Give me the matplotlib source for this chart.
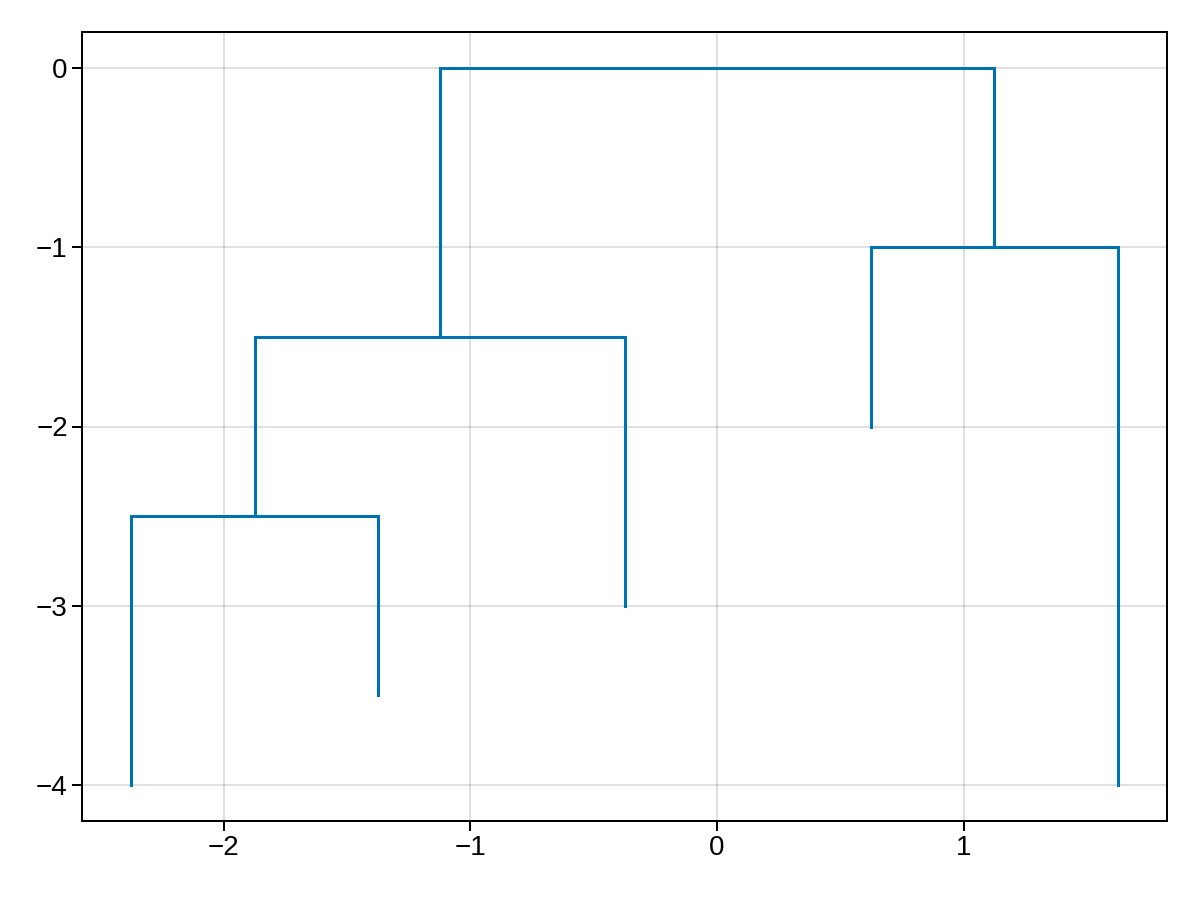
import matplotlib
matplotlib.use("Agg")
import matplotlib.pyplot as plt

# Leaves: x positions and heights
leaf_x = [-2.375, -1.375, -0.375, 0.625, 1.625]
leaf_y = [-4.0, -3.5, -3.0, -2.0, -4.0]
# Merges: (child_a, child_b, height); nodes 0-4 are leaves, 5+ are merges
merge_a = [0, 5, 3, 6]
merge_b = [1, 2, 4, 7]
merge_h = [-2.5, -1.5, -1.0, 0.0]

color = "#0072B2"
plt.rcParams["font.family"] = ["Liberation Sans", "DejaVu Sans"]

fig = plt.figure(figsize=(12, 9), dpi=100)
ax = fig.add_axes([82/1200, 1-821/900, (1167-82)/1200, (821-32)/900])

nx = list(leaf_x)
ny = list(leaf_y)
for a, b, h in zip(merge_a, merge_b, merge_h):
    ax.plot([nx[a], nx[a], nx[b], nx[b]], [ny[a], h, h, ny[b]],
            color=color, lw=2.2, solid_joinstyle="miter", zorder=3)
    nx.append((nx[a] + nx[b]) / 2)
    ny.append(h)

ax.set_xlim(-2.575, 1.825)
ax.set_ylim(-4.2, 0.2)
ax.set_xticks([-2, -1, 0, 1])
ax.set_yticks([-4, -3, -2, -1, 0])
ax.grid(True, color="#000000", alpha=0.12, lw=1.44)
ax.set_axisbelow(True)
for s in ax.spines.values():
    s.set_linewidth(1.44)
ax.tick_params(direction="out", length=7.2, width=1.44, labelsize=20, pad=3)

fig.savefig("out.png", dpi=100)
